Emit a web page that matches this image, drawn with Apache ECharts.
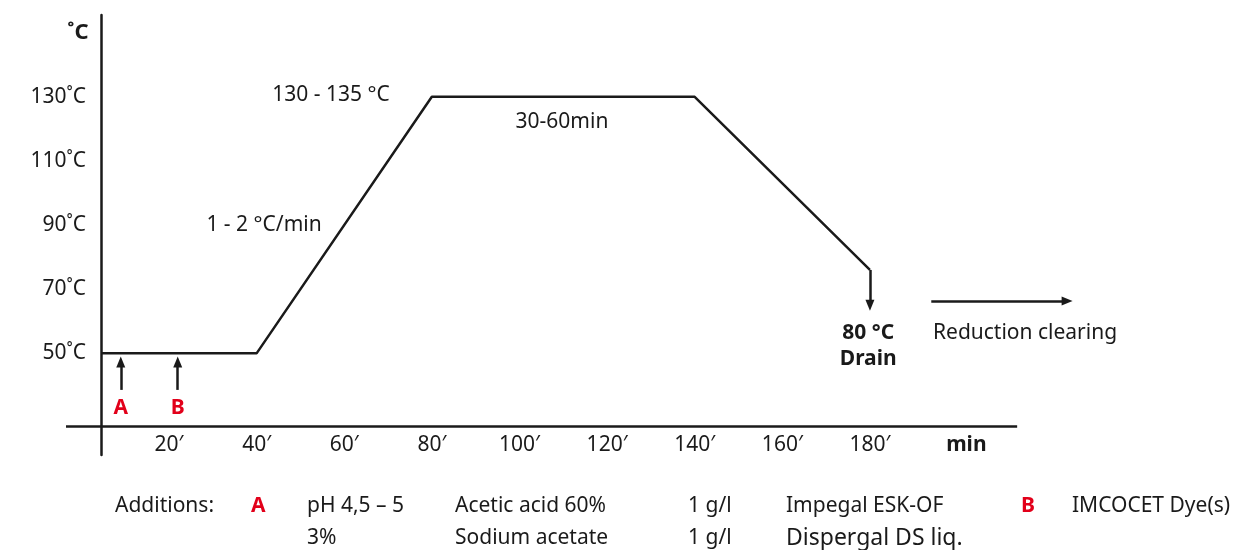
<!DOCTYPE html>
<html><head><meta charset="utf-8">
<script src="https://cdn.jsdelivr.net/npm/echarts@6/dist/echarts.min.js"></script>
<style>html,body{margin:0;padding:0;background:#fff}#c{width:1235px;height:550px}</style>
</head><body><div id="c"></div>
<script>
// ---- data ----
const profileTimes = [4.5, 40, 80, 140, 180];
const profileTemps = [50, 50, 130, 130, 76];
const drainEndTemp = 65;
const yTickValues = [50, 70, 90, 110, 130];
const xTickValues = [20, 40, 60, 80, 100, 120, 140, 160, 180];
const xUnitValue = 202;
const xUnitLabel = 'min';
const additionNames = ['A', 'B'];
const additionTimes = [9, 22];
const additionArrowTemps = [38.6, 47.3];
const additionLetterTemp = 32.9;
const axisCrossTemp = 27.4;
const axisTimeRange = [-3.5, 213.6];
const reductionTimes = [194, 225];
const reductionTemp = 66.3;
const noteTexts = ['130 - 135 °C', '30-60min', '1 - 2 °C/min', 'Reduction clearing'];
const noteTimes = [57, 109.7, 41.7, 215.4];
const noteTemps = [130.5, 122.1, 90, 56.3];
const drainTexts = ['80 °C', 'Drain'];
const drainTextTemps = [56.3, 48.2];
const drainTextTime = 179.6;
const additionRows = [
  ['Additions:', 'A', 'pH 4,5 – 5', 'Acetic acid 60%', '1 g/l', 'Impegal ESK-OF', 'B', 'IMCOCET Dye(s)'],
  ['', '', '3%', 'Sodium acetate', '1 g/l', 'Dispergal DS liq.', '', '']
];

// ---- layout ----
const FONT = '"Noto Sans", sans-serif';
const FS = 21;
const INK = '#1a1a1a';
const RED = '#e2001a';
const colX = [115, 251, 307, 455, 688, 786, 1021, 1072];
const rowY = [506, 538];

const graphics = [{
  type: 'text', x: 78, y: 33,
  style: { text: '˚C', font: 'bold 22px ' + FONT, fill: INK, align: 'center', verticalAlign: 'middle' }
}];
additionRows.forEach((row, r) => {
  row.forEach((txt, c) => {
    if (!txt) return;
    const isLetter = (txt === 'A' || txt === 'B');
    const big = txt === 'Dispergal DS liq.';
    graphics.push({
      type: 'text', x: colX[c], y: rowY[r],
      style: {
        text: txt,
        font: (isLetter ? 'bold ' : '') + (big ? '23px ' : FS + 'px ') + FONT,
        fill: isLetter ? RED : INK,
        verticalAlign: 'middle'
      }
    });
  });
});

const blackLine = { color: INK, width: 2.5, type: 'solid' };

const option = {
  animation: false,
  grid: { left: 66, right: 146, top: 15, bottom: 95, containLabel: false },
  xAxis: {
    type: 'value', min: axisTimeRange[0], max: 230, offset: -29,
    axisLine: { show: false }, axisTick: { show: false }, splitLine: { show: false },
    axisLabel: {
      customValues: xTickValues.concat([xUnitValue]),
      margin: 9, fontSize: FS, fontFamily: FONT, color: INK,
      formatter: v => v === xUnitValue ? '{u|' + xUnitLabel + '}' : v + '\u2032',
      rich: { u: { fontWeight: 'bold', fontSize: FS, fontFamily: FONT, color: INK } }
    }
  },
  yAxis: {
    type: 'value', min: 18.3, max: 155.5, offset: -35,
    axisLine: { show: true, lineStyle: { color: INK, width: 2.5 } },
    axisTick: { show: false }, splitLine: { show: false },
    axisLabel: {
      customValues: yTickValues, margin: 15, fontSize: FS, fontFamily: FONT, color: INK,
      formatter: v => v + '˚C'
    }
  },
  graphic: graphics,
  series: [
    {
      type: 'line', silent: true, symbol: 'none',
      data: profileTimes.map((t, i) => [t, profileTemps[i]]),
      lineStyle: blackLine,
      markLine: {
        silent: true, symbol: ['none', 'triangle'], symbolSize: [9, 11],
        label: { show: false }, lineStyle: blackLine,
        data: [
          [{ coord: [axisTimeRange[0], axisCrossTemp], symbol: 'none' }, { coord: [axisTimeRange[1], axisCrossTemp], symbol: 'none' }],
          [{ coord: [profileTimes[profileTimes.length - 1], profileTemps[profileTemps.length - 1]] }, { coord: [profileTimes[profileTimes.length - 1], drainEndTemp] }],
          [{ coord: [reductionTimes[0], reductionTemp] }, { coord: [reductionTimes[1], reductionTemp] }]
        ].concat(additionTimes.map(t => [{ coord: [t, additionArrowTemps[0]] }, { coord: [t, additionArrowTemps[1]] }]))
      }
    },
    {
      type: 'scatter', silent: true, symbolSize: 0, itemStyle: { opacity: 1 },
      data: noteTexts.map((n, i) => ({ name: n, value: [noteTimes[i], noteTemps[i]] }))
        .concat(drainTexts.map((n, i) => ({ name: n, value: [drainTextTime, drainTextTemps[i]], label: { fontWeight: 'bold' } }))),
      label: { show: true, position: 'inside', formatter: p => p.name, fontSize: FS, fontFamily: FONT, color: INK, opacity: 1 }
    },
    {
      type: 'scatter', silent: true, symbolSize: 0, itemStyle: { opacity: 1 },
      data: additionNames.map((n, i) => ({ name: n, value: [additionTimes[i], additionLetterTemp] })),
      label: { show: true, position: 'inside', formatter: p => p.name, fontSize: FS, fontWeight: 'bold', fontFamily: FONT, color: RED, opacity: 1 }
    }
  ]
};
const chart = echarts.init(document.getElementById('c'), null, { renderer: 'canvas' });
chart.setOption(option);
</script>
</body></html>
